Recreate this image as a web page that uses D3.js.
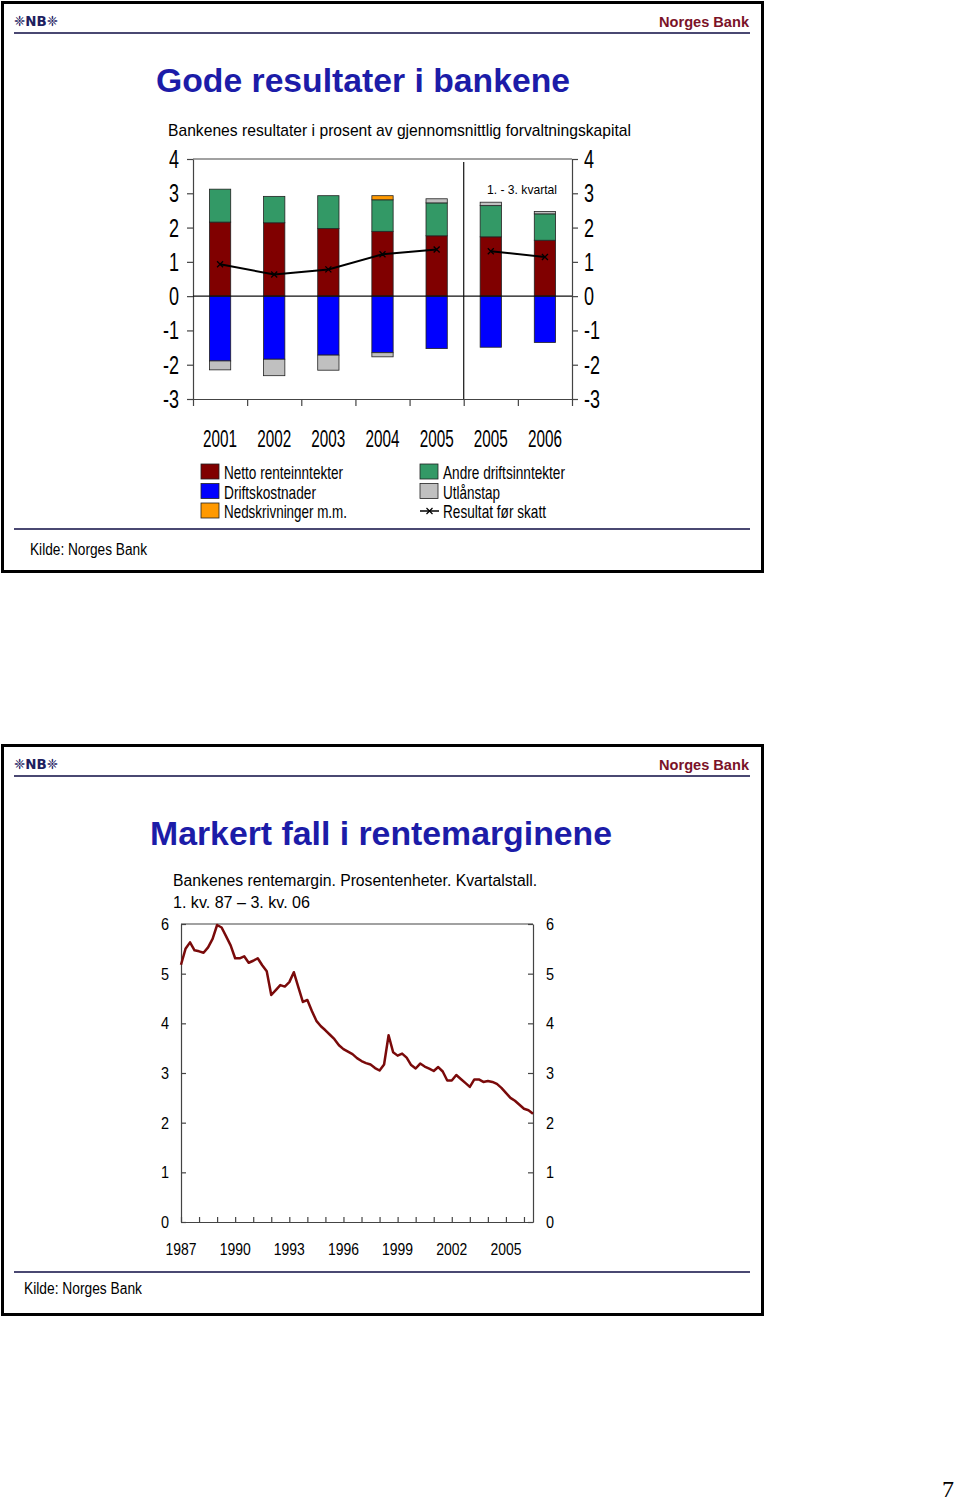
<!DOCTYPE html>
<html><head><meta charset="utf-8">
<script src="https://cdn.jsdelivr.net/npm/d3@7"></script>
<style>body{margin:0;background:#fff} svg{display:block}</style>
</head><body>
<svg id="c" width="960" height="1501"></svg>
<script>
// ---------- DATA: slide 1 (stacked bars) ----------
const barCategories = ["2001","2002","2003","2004","2005","2005","2006"];
const nettoRente    = [2.16, 2.14, 1.97, 1.89, 1.76, 1.73, 1.63];
const andreInntekt  = [0.96, 0.77, 0.96, 0.92, 0.96, 0.91, 0.77];
const nedskrivning  = [0.00, 0.00, 0.00, 0.12, 0.00, 0.00, 0.00];
const utlanstap     = [-0.26, -0.48, -0.44, -0.12, 0.12, 0.10, 0.07];
const driftskost    = [-1.89, -1.84, -1.72, -1.65, -1.53, -1.49, -1.35];
const resultat      = [0.93, 0.63, 0.78, 1.22, 1.36, 1.31, 1.14];
const barTicks      = [4, 3, 2, 1, 0, -1, -2, -3];
const legendNames   = ["Netto renteinntekter","Driftskostnader","Nedskrivninger m.m.",
                       "Andre driftsinntekter","Utlånstap","Resultat før skatt"];

// ---------- DATA: slide 2 (quarterly interest margin, 1. kv. 87 – 3. kv. 06) ----------
const marginFirstYear = 1987;
const rentemargin = [
 5.18,5.50,5.63,5.47,5.45,5.42,5.53,5.70,5.98,5.93,
 5.75,5.57,5.31,5.31,5.35,5.22,5.26,5.31,5.17,5.05,
 4.57,4.67,4.77,4.74,4.83,5.03,4.73,4.43,4.47,4.25,
 4.05,3.94,3.86,3.77,3.68,3.56,3.48,3.43,3.38,3.30,
 3.24,3.20,3.17,3.10,3.05,3.17,3.76,3.42,3.35,3.39,
 3.31,3.16,3.09,3.19,3.13,3.09,3.04,3.12,3.03,2.85,
 2.85,2.96,2.88,2.80,2.72,2.87,2.87,2.82,2.84,2.82,
 2.78,2.70,2.60,2.50,2.44,2.36,2.28,2.25,2.18];
const marginYearLabels = ["1987","1990","1993","1996","1999","2002","2005"];
const marginYearTicks  = [1987,1988,1989,1990,1991,1992,1993,1994,1995,1996,1997,1998,1999,2000,2001,2002,2003,2004,2005,2006];
const marginTicks = [0,1,2,3,4,5,6];

// ---------- STYLE ----------
const C = {
  netto:"#800000", drift:"#0000ff", nedskr:"#ff9900", andre:"#339966", utlan:"#c0c0c0",
  line:"#7a0a0a", title:"#1c1ca8", nb:"#7a1228", rule:"#4a4872", axis:"#444"
};
const svg = d3.select("#c");
const FONT = "'Liberation Sans', Arial, Helvetica, sans-serif";

function txt(g, s, x, y, o) {
  o = o || {};
  const t = g.append("text").text(s)
    .attr("font-family", o.family || FONT)
    .attr("font-size", o.size || 16)
    .attr("font-weight", o.weight || "normal")
    .attr("fill", o.fill || "#000")
    .attr("text-anchor", o.anchor || "start");
  if (o.sx) {
    t.attr("transform", `translate(${x},${y}) scale(${o.sx},1)`);
  } else {
    t.attr("x", x).attr("y", y);
  }
  if (o.len) t.attr("textLength", o.len).attr("lengthAdjust", "spacingAndGlyphs");
  return t;
}

function slideFrame(y0) {
  const g = svg.append("g");
  g.append("rect").attr("x", 2.5).attr("y", y0 + 2.5).attr("width", 760).attr("height", 569)
    .attr("fill", "none").attr("stroke", "#000").attr("stroke-width", 3);
  g.append("line").attr("x1", 14).attr("x2", 750).attr("y1", y0 + 33).attr("y2", y0 + 33)
    .attr("stroke", C.rule).attr("stroke-width", 2);
  txt(g, "❈NB❈", 14, y0 + 26, {family:"'DejaVu Sans', sans-serif", size:14, weight:"bold", fill:"#202060", len:44});
  txt(g, "Norges Bank", 749, y0 + 27, {size:15, weight:"bold", fill:C.nb, anchor:"end", len:90});
  return g;
}

// ================= SLIDE 1 =================
const s1 = slideFrame(0);
txt(s1, "Gode resultater i bankene", 156, 92, {size:33, weight:"bold", fill:C.title, len:414});
txt(s1, "Bankenes resultater i prosent av gjennomsnittlig forvaltningskapital", 168, 136, {size:17, len:463});
s1.append("line").attr("x1", 14).attr("x2", 750).attr("y1", 529).attr("y2", 529)
  .attr("stroke", C.rule).attr("stroke-width", 2);
txt(s1, "Kilde: Norges Bank", 30, 555, {size:16, len:117});

const xB = d3.scaleBand().domain(d3.range(barCategories.length)).range([193, 572])
  .paddingInner(0.607).paddingOuter(0.3035);
const xEdge = d3.scaleLinear().domain([0, barCategories.length]).range([193, 572]);
const yB = d3.scaleLinear().domain([-3, 4]).range([399, 159]);

const axG = s1.append("g").attr("color", C.axis);
axG.append("g").attr("transform", "translate(193,0)")
  .call(d3.axisLeft(yB).tickValues(barTicks).tickSizeInner(6).tickSizeOuter(0).tickFormat(""));
axG.append("g").attr("transform", "translate(572,0)")
  .call(d3.axisRight(yB).tickValues(barTicks).tickSizeInner(6).tickSizeOuter(0).tickFormat(""));
axG.append("g").attr("transform", `translate(0,${yB(-3)})`)
  .call(d3.axisBottom(xEdge).tickValues(d3.range(barCategories.length + 1)).tickSizeInner(7).tickSizeOuter(0).tickFormat(""));
axG.append("line").attr("x1", 193).attr("x2", 572).attr("y1", yB(4)).attr("y2", yB(4)).attr("stroke", C.axis);
axG.selectAll("path,line").attr("stroke-width", 1.2);

// bars
const bars = s1.append("g");
barCategories.forEach((c, i) => {
  const pos = [[nettoRente[i], C.netto], [andreInntekt[i], C.andre]];
  const neg = [[driftskost[i], C.drift]];
  if (utlanstap[i] > 0) pos.push([utlanstap[i], C.utlan]); else neg.push([utlanstap[i], C.utlan]);
  if (nedskrivning[i] > 0) pos.push([nedskrivning[i], C.nedskr]); else if (nedskrivning[i] < 0) neg.push([nedskrivning[i], C.nedskr]);
  let acc = 0;
  pos.forEach(([v, col]) => {
    bars.append("rect").attr("x", xB(i)).attr("width", xB.bandwidth())
      .attr("y", yB(acc + v)).attr("height", yB(acc) - yB(acc + v))
      .attr("fill", col).attr("stroke", "#222").attr("stroke-width", 0.8);
    acc += v;
  });
  acc = 0;
  neg.forEach(([v, col]) => {
    bars.append("rect").attr("x", xB(i)).attr("width", xB.bandwidth())
      .attr("y", yB(acc)).attr("height", yB(acc + v) - yB(acc))
      .attr("fill", col).attr("stroke", "#222").attr("stroke-width", 0.8);
    acc += v;
  });
});
// zero line & divider
s1.append("line").attr("x1", 193).attr("x2", 572).attr("y1", yB(0)).attr("y2", yB(0)).attr("stroke", "#111").attr("stroke-width", 1.2);
s1.append("line").attr("x1", xEdge(5)).attr("x2", xEdge(5)).attr("y1", yB(4) + 3).attr("y2", yB(-3)).attr("stroke", "#111").attr("stroke-width", 1.2);

// result line (two segments: annual, then 1.-3. kvartal)
const rl = d3.line().x(i => xB(i) + xB.bandwidth() / 2).y(i => yB(resultat[i]));
[[0,1,2,3,4],[5,6]].forEach(seg => {
  s1.append("path").attr("d", rl(seg)).attr("fill", "none").attr("stroke", "#000").attr("stroke-width", 2);
  seg.forEach(i => {
    const cx = xB(i) + xB.bandwidth() / 2, cy = yB(resultat[i]);
    s1.append("path").attr("d", `M${cx-3},${cy-3}L${cx+3},${cy+3}M${cx-3},${cy+3}L${cx+3},${cy-3}`)
      .attr("stroke", "#000").attr("stroke-width", 1.3);
  });
});

// axis labels
barTicks.forEach(t => {
  txt(s1, String(t), 179, yB(t) + 9, {size:25, anchor:"end", sx:0.72});
  txt(s1, String(t), 584, yB(t) + 9, {size:25, anchor:"start", sx:0.72});
});
barCategories.forEach((c, i) => {
  txt(s1, c, xB(i) + xB.bandwidth() / 2, 447, {size:24, anchor:"middle", len:34});
});
txt(s1, "1. - 3. kvartal", 487, 194, {size:13, len:70});

// legend
const legCols = [C.netto, C.drift, C.nedskr, C.andre, C.utlan, null];
const legLens = [119, 92, 123, 122, 57, 103];
legendNames.forEach((n, k) => {
  const col = Math.floor(k / 3), row = k % 3;
  const lx = col === 0 ? 201 : 420, ly = 464 + row * 19.5;
  if (legCols[k]) {
    s1.append("rect").attr("x", lx).attr("y", ly).attr("width", 18).attr("height", 15)
      .attr("fill", legCols[k]).attr("stroke", "#222").attr("stroke-width", 0.8);
  } else {
    s1.append("line").attr("x1", lx).attr("x2", lx + 19).attr("y1", ly + 8).attr("y2", ly + 8).attr("stroke", "#000").attr("stroke-width", 1.5);
    const cx = lx + 9.5, cy = ly + 8;
    s1.append("path").attr("d", `M${cx-3},${cy-3}L${cx+3},${cy+3}M${cx-3},${cy+3}L${cx+3},${cy-3}`).attr("stroke", "#000").attr("stroke-width", 1.2);
  }
  txt(s1, n, lx + 23, ly + 15, {size:19, len:legLens[k]});
});

// ================= SLIDE 2 =================
const Y2 = 743;
const s2 = slideFrame(Y2);
txt(s2, "Markert fall i rentemarginene", 150, 845, {size:34, weight:"bold", fill:C.title, len:462});
txt(s2, "Bankenes rentemargin. Prosentenheter. Kvartalstall.", 173, 886, {size:16, len:364});
txt(s2, "1. kv. 87 – 3. kv. 06", 173, 908, {size:16, len:137});
s2.append("line").attr("x1", 14).attr("x2", 750).attr("y1", 1272).attr("y2", 1272)
  .attr("stroke", C.rule).attr("stroke-width", 2);
txt(s2, "Kilde: Norges Bank", 24, 1294, {size:16, len:118});

const xM = d3.scaleLinear().domain([marginFirstYear, marginFirstYear + (rentemargin.length - 1) / 4]).range([181, 533]);
const yM = d3.scaleLinear().domain([0, 6]).range([1222, 924]);
const ax2 = s2.append("g").attr("color", C.axis);
ax2.append("g").attr("transform", "translate(181,0)")
  .call(d3.axisRight(yM).tickValues(marginTicks).tickSizeInner(5).tickSizeOuter(0).tickFormat(""));
ax2.append("g").attr("transform", "translate(533,0)")
  .call(d3.axisLeft(yM).tickValues(marginTicks).tickSizeInner(5).tickSizeOuter(0).tickFormat(""));
ax2.append("g").attr("transform", "translate(0,1222)")
  .call(d3.axisTop(xM).tickValues(marginYearTicks).tickSizeInner(5).tickSizeOuter(0).tickFormat(""));
ax2.append("line").attr("x1", 181).attr("x2", 533).attr("y1", 924).attr("y2", 924).attr("stroke", C.axis);
ax2.selectAll("path,line").attr("stroke-width", 1.2);

const ml = d3.line().x((v, i) => xM(marginFirstYear + i / 4)).y(v => yM(v));
s2.append("path").attr("d", ml(rentemargin)).attr("fill", "none")
  .attr("stroke", C.line).attr("stroke-width", 2.5).attr("stroke-linejoin", "round");

marginTicks.forEach(t => {
  txt(s2, String(t), 165, yM(t) + 6, {size:17, anchor:"middle", sx:0.85});
  txt(s2, String(t), 550, yM(t) + 6, {size:17, anchor:"middle", sx:0.85});
});
marginYearLabels.forEach(y => {
  txt(s2, y, xM(+y), 1255, {size:17, anchor:"middle", len:31});
});

// page number
txt(svg, "7", 954, 1497, {family:"'Liberation Serif', 'Times New Roman', serif", size:24, anchor:"end"});
</script>
</body></html>
